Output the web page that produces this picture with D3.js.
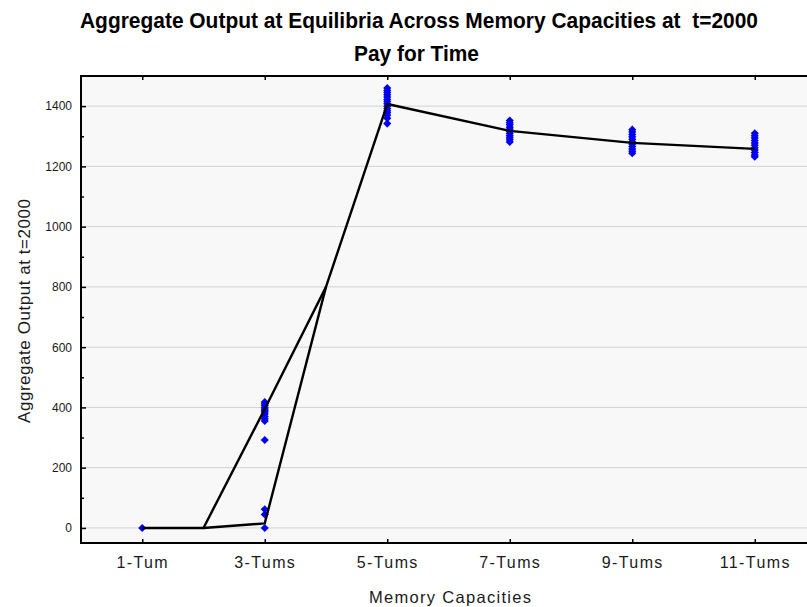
<!DOCTYPE html>
<html>
<head>
<meta charset="utf-8">
<script src="https://cdn.jsdelivr.net/npm/d3@7/dist/d3.min.js"></script>
<style>
  html, body { margin: 0; padding: 0; background: #ffffff; }
  svg { display: block; font-family: "Liberation Sans", Arial, sans-serif; }
  .title { white-space: pre; }
</style>
</head>
<body>
<svg id="chart" width="807" height="607"></svg>
<script>
// Memory capacity groups on the x axis
const categories = ["1-Tum", "3-Tums", "5-Tums", "7-Tums", "9-Tums", "11-Tums"];

// Aggregate output of each equilibrium, one list per memory capacity
const output1 = [0];
const output3 = [418, 412, 406, 400, 395, 390, 385, 378, 370, 362, 355, 292, 62, 45, 0];
const output5 = [1460, 1452, 1445, 1438, 1430, 1422, 1415, 1408, 1400, 1392, 1385, 1378, 1370, 1360, 1342];
const output7 = [1352, 1345, 1338, 1330, 1323, 1316, 1309, 1302, 1295, 1288, 1281];
const output9 = [1322, 1314, 1306, 1298, 1290, 1282, 1274, 1266, 1258, 1250, 1244];
const output11 = [1310, 1302, 1294, 1286, 1278, 1270, 1262, 1254, 1246, 1238, 1232];
const outputs = [output1, output3, output5, output7, output9, output11];

// Connecting lines, positions given in category steps (0 = 1-Tum)
const upperLinePos = [0, 0.5, 1, 1.5, 2, 3, 4, 5];
const upperLineVal = [0, 0, 395, 800, 1407, 1318, 1278, 1258];
const lowerLinePos = [0.5, 1, 1.5];
const lowerLineVal = [0, 15, 800];

// Axis ticks
const yMajorTicks = [0, 200, 400, 600, 800, 1000, 1200, 1400];
const yMinorTicks = [100, 300, 500, 700, 900, 1100, 1300];

const svg = d3.select("#chart");

const plot = { left: 81, right: 816, top: 76, bottom: 543 };

const x = d3.scaleLinear()
  .domain([-0.5, categories.length - 0.5])
  .range([plot.left, plot.right]);

const y = d3.scaleLinear()
  .domain([-50, 1500])
  .range([plot.bottom, plot.top]);

// Plot background
svg.append("rect")
  .attr("x", plot.left).attr("y", plot.top)
  .attr("width", plot.right - plot.left)
  .attr("height", plot.bottom - plot.top)
  .attr("fill", "#f8f8f8");

// Horizontal gridlines
svg.append("g").selectAll("line")
  .data(yMajorTicks)
  .join("line")
  .attr("x1", plot.left).attr("x2", plot.right)
  .attr("y1", d => y(d)).attr("y2", d => y(d))
  .attr("stroke", "#d2d2d2").attr("stroke-width", 1);

// Left axis: major ticks with labels, minor ticks without
const yAxis = svg.append("g")
  .attr("transform", `translate(${plot.left},0)`)
  .call(d3.axisLeft(y).tickValues(yMajorTicks).tickSize(-5).tickPadding(9).tickFormat(d3.format("d")));
yAxis.select(".domain").remove();
yAxis.selectAll(".tick line").attr("stroke", "#000").attr("stroke-width", 1.5);
yAxis.selectAll(".tick text")
  .attr("font-size", 12).attr("fill", "#1a1a1a")
  .attr("font-family", "'Liberation Sans', Arial, sans-serif");

const yMinor = svg.append("g")
  .attr("transform", `translate(${plot.left},0)`)
  .call(d3.axisLeft(y).tickValues(yMinorTicks).tickSize(-3).tickFormat(""));
yMinor.select(".domain").remove();
yMinor.selectAll(".tick line").attr("stroke", "#000").attr("stroke-width", 1.5);

// Bottom axis with category labels
const xAxis = svg.append("g")
  .attr("transform", `translate(0,${plot.bottom})`)
  .call(d3.axisBottom(x).tickValues(d3.range(categories.length)).tickSize(-4).tickPadding(13.5)
    .tickFormat(i => categories[i]));
xAxis.select(".domain").remove();
xAxis.selectAll(".tick line").attr("stroke", "#000").attr("stroke-width", 1.5);
xAxis.selectAll(".tick text")
  .attr("font-size", 16).attr("fill", "#1a1a1a")
  .attr("letter-spacing", "1.4px")
  .attr("font-family", "'Liberation Sans', Arial, sans-serif");

// Top axis: tick marks only
const xTop = svg.append("g")
  .attr("transform", `translate(0,${plot.top})`)
  .call(d3.axisTop(x).tickValues(d3.range(categories.length)).tickSize(-4).tickFormat(""));
xTop.select(".domain").remove();
xTop.selectAll(".tick line").attr("stroke", "#000").attr("stroke-width", 1.5);

// Frame
const frame = svg.append("g").attr("stroke", "#000").attr("stroke-width", 2);
frame.append("line").attr("x1", plot.left).attr("x2", plot.left).attr("y1", plot.top - 1).attr("y2", plot.bottom + 1);
frame.append("line").attr("x1", plot.left).attr("x2", plot.right).attr("y1", plot.top).attr("y2", plot.top);
frame.append("line").attr("x1", plot.left).attr("x2", plot.right).attr("y1", plot.bottom).attr("y2", plot.bottom);

// Equilibrium points as blue diamonds
const pts = outputs.flatMap((vals, i) => vals.map(v => ({ i, v })));
const diamond = d3.symbol().type(d3.symbolDiamond2).size(42);
svg.append("g").selectAll("path")
  .data(pts)
  .join("path")
  .attr("d", diamond)
  .attr("transform", d => `translate(${x(d.i)},${y(d.v)})`)
  .attr("fill", "#0000ee");

// Connecting lines
const line = d3.line().x(d => x(d[0])).y(d => y(d[1]));
svg.append("path")
  .datum(d3.zip(upperLinePos, upperLineVal))
  .attr("d", line)
  .attr("fill", "none").attr("stroke", "#000").attr("stroke-width", 2.4)
  .attr("stroke-linejoin", "round");
svg.append("path")
  .datum(d3.zip(lowerLinePos, lowerLineVal))
  .attr("d", line)
  .attr("fill", "none").attr("stroke", "#000").attr("stroke-width", 2.4)
  .attr("stroke-linejoin", "round");

// Titles
svg.append("text")
  .attr("class", "title")
  .attr("x", 80).attr("y", 28)
  .attr("font-size", 22).attr("font-weight", "bold").attr("fill", "#000")
  .attr("textLength", 678).attr("lengthAdjust", "spacingAndGlyphs")
  .text("Aggregate Output at Equilibria Across Memory Capacities at  t=2000");
svg.append("text")
  .attr("class", "title")
  .attr("x", 354).attr("y", 61)
  .attr("font-size", 22).attr("font-weight", "bold").attr("fill", "#000")
  .attr("textLength", 125).attr("lengthAdjust", "spacingAndGlyphs")
  .text("Pay for Time");

// Axis titles
svg.append("text")
  .attr("transform", "translate(30,311) rotate(-90)")
  .attr("text-anchor", "middle")
  .attr("font-size", 17).attr("fill", "#1a1a1a")
  .attr("textLength", 224).attr("lengthAdjust", "spacing")
  .text("Aggregate Output at t=2000");
svg.append("text")
  .attr("x", 369).attr("y", 603)
  .attr("font-size", 16.5).attr("fill", "#1a1a1a")
  .attr("textLength", 162).attr("lengthAdjust", "spacing")
  .text("Memory Capacities");
</script>
</body>
</html>
